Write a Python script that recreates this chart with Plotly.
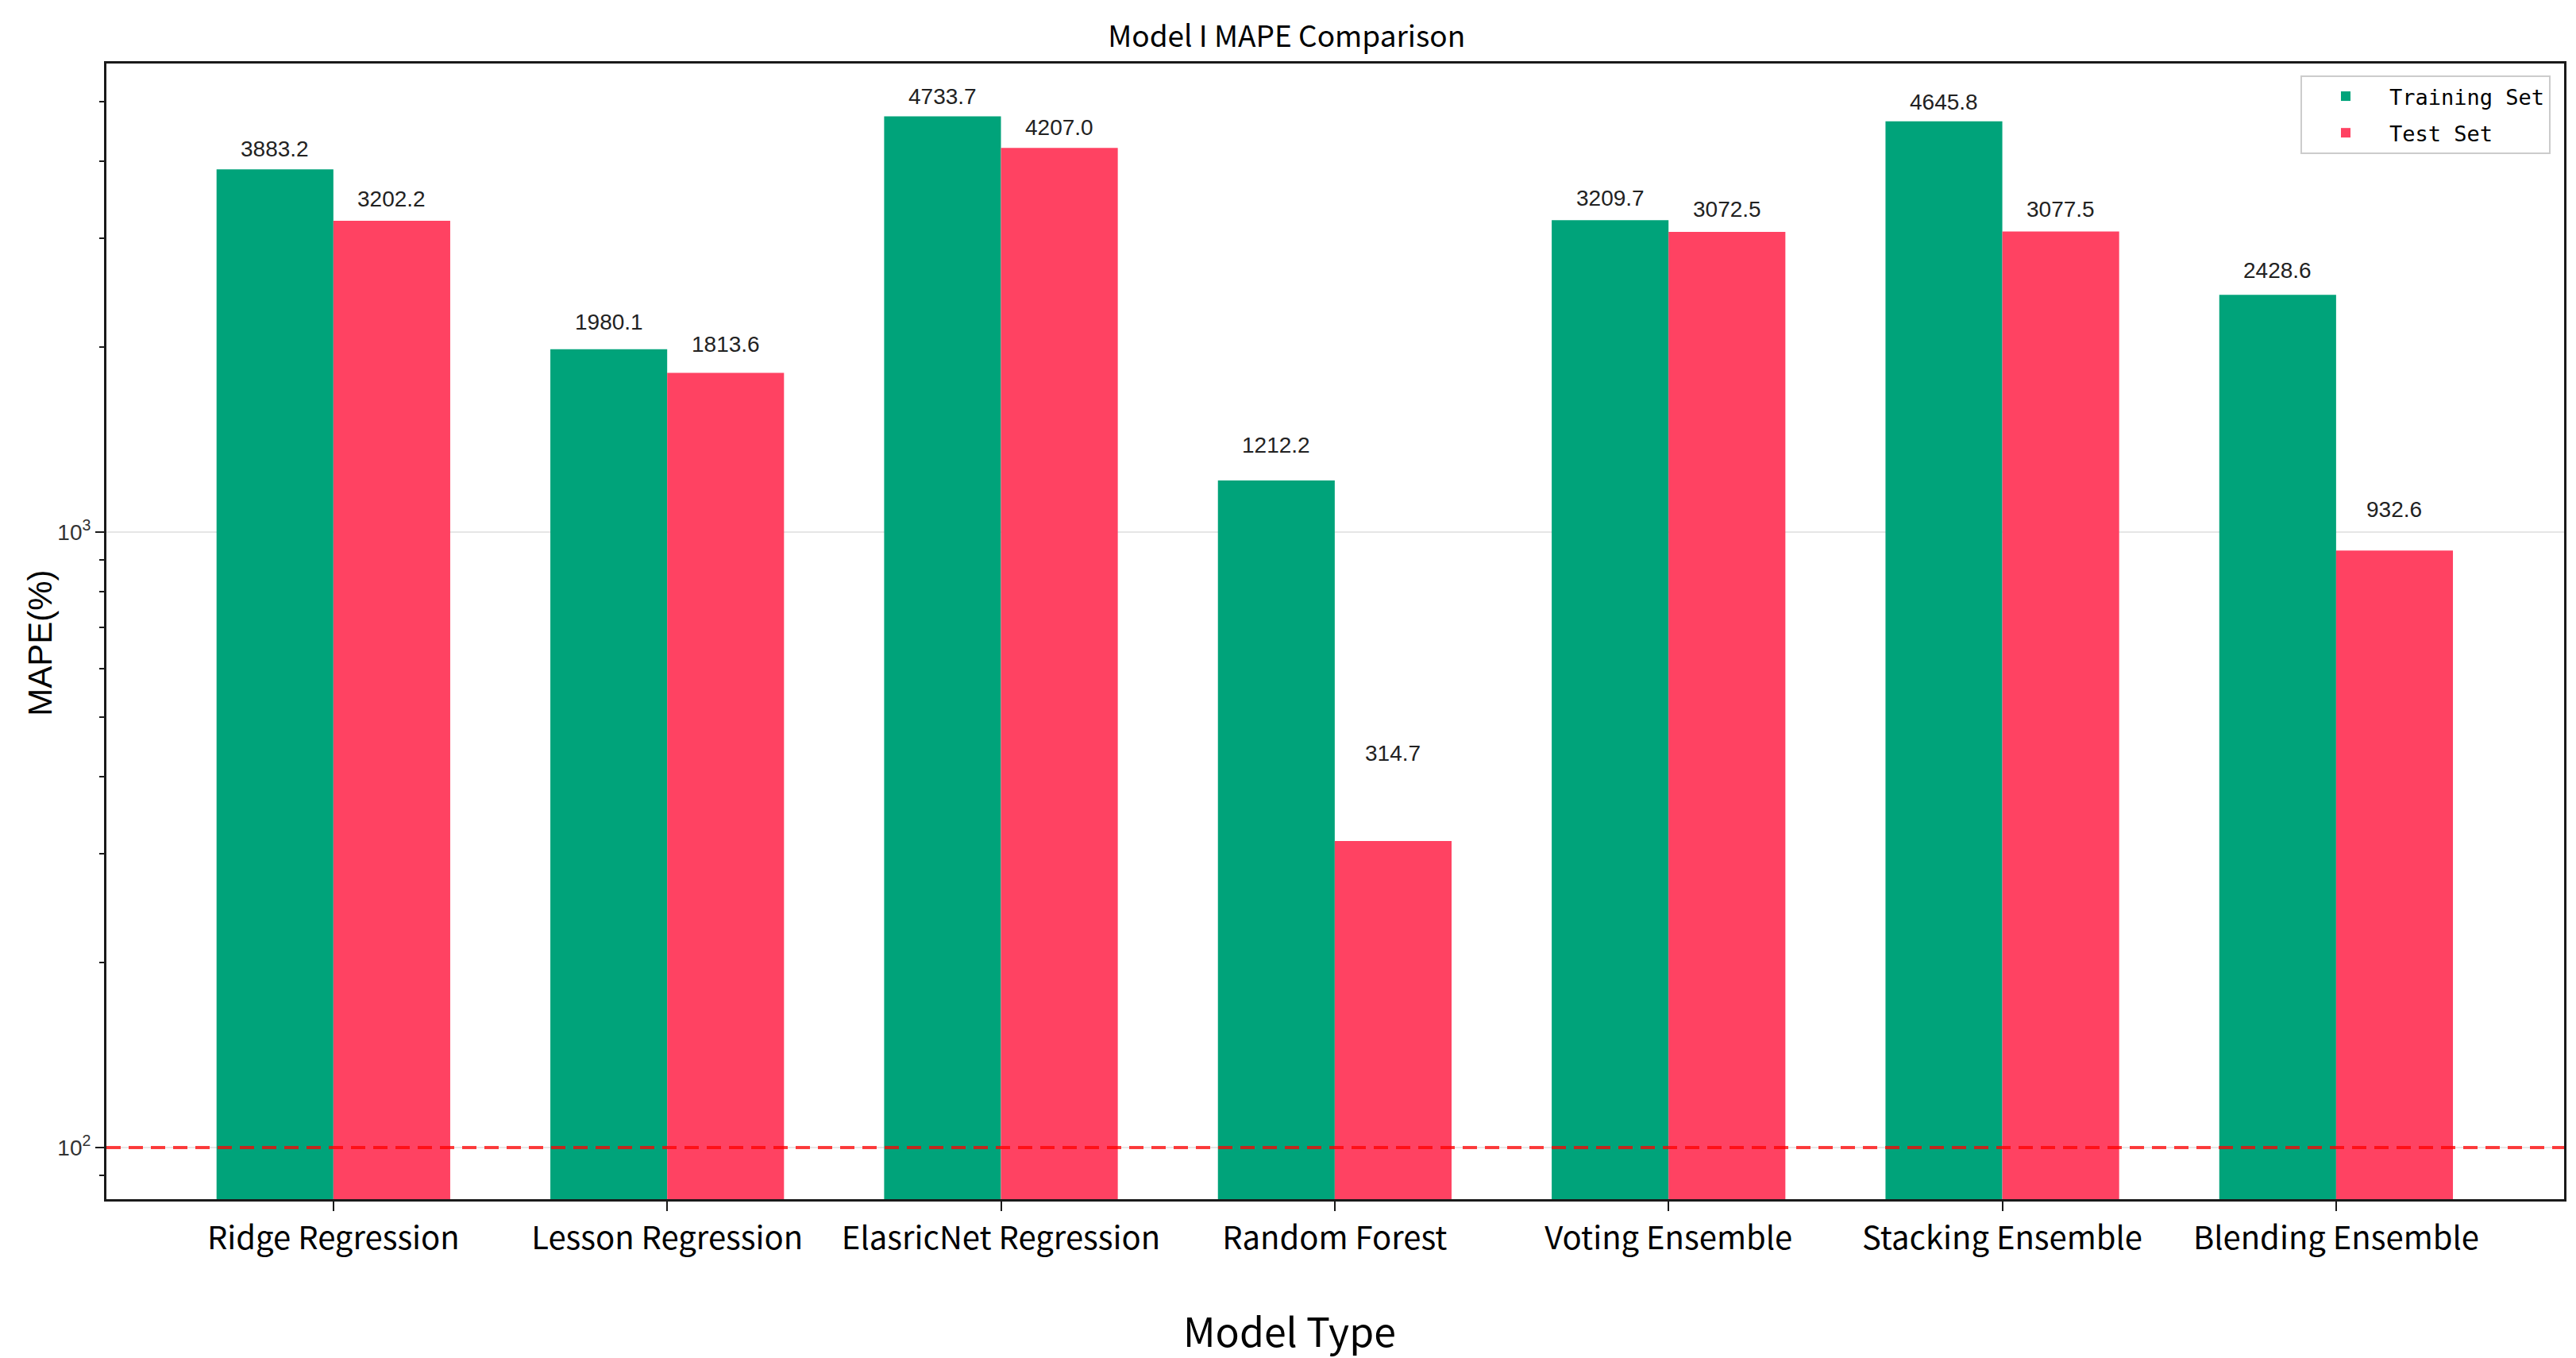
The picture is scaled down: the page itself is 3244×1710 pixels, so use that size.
import numpy as np
import plotly.graph_objects as go

# ---------------- data ----------------
models = [
    "Ridge Regression",
    "Lesson Regression",
    "ElasricNet Regression",
    "Random Forest",
    "Voting Ensemble",
    "Stacking Ensemble",
    "Blending Ensemble",
]
train_mape = [3883.2, 1980.1, 4733.7, 1212.2, 3209.7, 4645.8, 2428.6]
test_mape = [3202.2, 1813.6, 4207.0, 314.7, 3072.5, 3077.5, 932.6]
reference_level = 100
y_tickvals = [100, 1000]
y_ticktext = ["10<sup>2</sup>", "10<sup>3</sup>"]
y_minor_vals = [90, 200, 300, 400, 500, 600, 700, 800, 900, 2000, 3000, 4000, 5000]

# ---------------- style ----------------
GREEN = "#00A37A"
RED = "#FF4262"
AXIS = "#1a1a1a"
BARGAP = 0.3
BAR_W = (1 - BARGAP) / 2
LABEL_PAD = 100  # data units above bar top for value labels

fig = go.Figure()
fig.add_trace(go.Bar(x=models, y=train_mape, name="Training Set", legendgroup="train",
                     marker=dict(color=GREEN, line=dict(width=0))))
fig.add_trace(go.Bar(x=models, y=test_mape, name="Test Set", legendgroup="test",
                     marker=dict(color=RED, line=dict(width=0))))

# dashed reference line spanning the full plot width (overlay axis 0..1)
fig.add_trace(go.Scatter(x=[0, 1], y=[reference_level, reference_level],
                         xaxis="x2", yaxis="y", mode="lines",
                         line=dict(color="rgba(255,0,0,0.75)", width=4, dash="18px,10px"),
                         showlegend=False, hoverinfo="skip"))

annotations = []
for i, (a, b) in enumerate(zip(train_mape, test_mape)):
    for v, off in ((a, -BAR_W / 2), (b, BAR_W / 2)):
        annotations.append(dict(
            x=i + off, y=np.log10(v + LABEL_PAD), xref="x", yref="y",
            text=f"{v:.1f}", showarrow=False, yanchor="bottom", xanchor="center",
            font=dict(family="Liberation Sans Narrow, Liberation Sans", size=28, color="#222222"),
        ))

# axis titles (placed as in the reference)
annotations.append(dict(
    text="Model Type", xref="paper", yref="paper", x=0.4814, y=-0.1147,
    xanchor="center", yanchor="middle", showarrow=False,
    font=dict(family="Noto Sans CJK SC", size=50, color="black"),
))
annotations.append(dict(
    text="MAPE(%)", xref="paper", yref="paper", x=-0.027, y=0.49,
    xanchor="center", yanchor="middle", textangle=-90, showarrow=False,
    font=dict(family="Liberation Sans", size=42, color="black"),
))

fig.update_layout(
    width=3244, height=1710,
    margin=dict(l=126, r=23, t=72, b=208),
    paper_bgcolor="white", plot_bgcolor="white",
    barmode="group", bargap=BARGAP, bargroupgap=0,
    title=dict(text="Model I MAPE Comparison", x=0.497, xanchor="center",
               y=0.978, yanchor="middle",
               font=dict(family="Noto Sans CJK SC", size=37, color="black")),
    legend=dict(x=0.9945, xanchor="right", y=0.9895, yanchor="top",
                bgcolor="white", bordercolor="#cccccc", borderwidth=2,
                itemwidth=100, traceorder="grouped", tracegroupgap=8,
                font=dict(family="DejaVu Sans Mono", size=27, color="black")),
    annotations=annotations,
    xaxis=dict(
        type="category", range=[-0.68, 6.683], automargin=False,
        showline=True, linecolor=AXIS, linewidth=3, mirror=True,
        ticks="outside", ticklen=12, tickwidth=2, tickcolor=AXIS,
        tickfont=dict(family="Noto Sans CJK SC", size=40, color="black"),
        showgrid=False,
    ),
    xaxis2=dict(overlaying="x", range=[0, 1], visible=False, anchor="y"),
    yaxis=dict(
        type="log", range=[1.916, 3.761], automargin=False,
        tickmode="array", tickvals=y_tickvals, ticktext=y_ticktext,
        showline=True, linecolor=AXIS, linewidth=3, mirror=True,
        ticks="outside", ticklen=11, tickwidth=2, tickcolor=AXIS,
        tickfont=dict(family="Liberation Sans", size=28, color="#333333"),
        showgrid=True, gridcolor="#e6e6e6", gridwidth=2,
        minor=dict(tickmode="array", tickvals=y_minor_vals, ticks="outside",
                   ticklen=6, tickwidth=2, tickcolor=AXIS, showgrid=False),
    ),
)

fig.write_html("out.html")
